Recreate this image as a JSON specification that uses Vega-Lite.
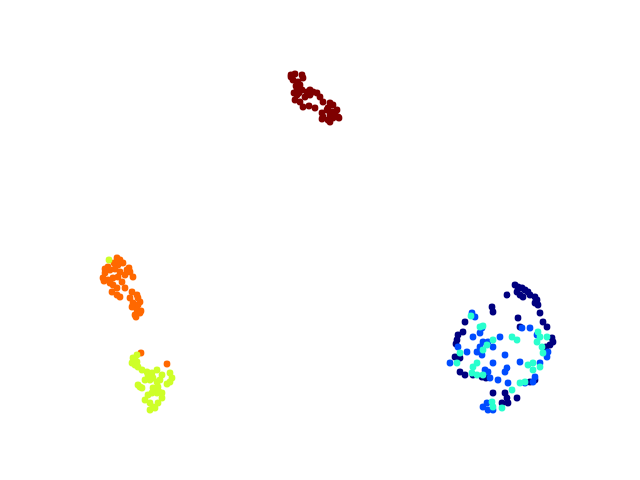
{
  "$schema": "https://vega.github.io/schema/vega-lite/v6.json",
  "width": 640,
  "height": 480,
  "padding": 0,
  "autosize": {"type": "fit", "contains": "padding"},
  "background": "white",
  "config": {"view": {"stroke": null}},
  "data": {"values": [
    {"x":291,"y":75,"c":5},{"x":295,"y":74,"c":5},{"x":302,"y":75,"c":5},{"x":303,"y":78,"c":5},{"x":293,"y":80,"c":5},{"x":298,"y":82,"c":5},{"x":300,"y":85,"c":5},{"x":297,"y":89,"c":5},{"x":302,"y":90,"c":5},{"x":297,"y":95,"c":5},{"x":295,"y":100,"c":5},{"x":300,"y":102,"c":5},{"x":307,"y":92,"c":5},{"x":310,"y":90,"c":5},{"x":313,"y":92,"c":5},{"x":317,"y":93,"c":5},{"x":320,"y":97,"c":5},{"x":310,"y":95,"c":5},{"x":305,"y":97,"c":5},{"x":303,"y":107,"c":5},{"x":315,"y":108,"c":5},{"x":323,"y":102,"c":5},{"x":330,"y":103,"c":5},{"x":333,"y":105,"c":5},{"x":328,"y":108,"c":5},{"x":332,"y":112,"c":5},{"x":337,"y":110,"c":5},{"x":338,"y":117,"c":5},{"x":333,"y":118,"c":5},{"x":328,"y":120,"c":5},{"x":323,"y":117,"c":5},{"x":322,"y":113,"c":5},{"x":330,"y":115,"c":5},{"x":335,"y":113,"c":5},{"x":330,"y":122,"c":5},{"x":327,"y":110,"c":5},{"x":299,"y":93,"c":5},{"x":294,"y":93,"c":5},{"x":291,"y":77,"c":5},{"x":309,"y":106,"c":5},{"x":339,"y":118,"c":5},{"x":322,"y":119,"c":5},{"x":296,"y":86,"c":5},

    {"x":117,"y":258,"c":4},{"x":120,"y":260,"c":4},{"x":123,"y":263,"c":4},{"x":118,"y":265,"c":4},{"x":114,"y":263,"c":4},{"x":108,"y":267,"c":4},{"x":105,"y":269,"c":4},{"x":110,"y":270,"c":4},{"x":115,"y":269,"c":4},{"x":120,"y":272,"c":4},{"x":127,"y":270,"c":4},{"x":130,"y":272,"c":4},{"x":125,"y":275,"c":4},{"x":118,"y":277,"c":4},{"x":113,"y":278,"c":4},{"x":105,"y":273,"c":4},{"x":103,"y":278,"c":4},{"x":108,"y":280,"c":4},{"x":133,"y":277,"c":4},{"x":113,"y":285,"c":4},{"x":117,"y":288,"c":4},{"x":112,"y":292,"c":4},{"x":117,"y":295,"c":4},{"x":120,"y":297,"c":4},{"x":125,"y":288,"c":4},{"x":132,"y":292,"c":4},{"x":137,"y":295,"c":4},{"x":130,"y":298,"c":4},{"x":133,"y":303,"c":4},{"x":138,"y":305,"c":4},{"x":132,"y":307,"c":4},{"x":137,"y":310,"c":4},{"x":140,"y":313,"c":4},{"x":135,"y":315,"c":4},{"x":140,"y":302,"c":4},{"x":122,"y":282,"c":4},{"x":110,"y":283,"c":4},{"x":104,"y":281,"c":4},{"x":129,"y":268,"c":4},{"x":141,"y":311,"c":4},{"x":136,"y":317,"c":4},{"x":138,"y":298,"c":4},{"x":141,"y":353,"c":4},{"x":167,"y":364,"c":4},

    {"x":109,"y":260,"c":3},
    {"x":137,"y":355,"c":3},{"x":133,"y":358,"c":3},{"x":132,"y":363,"c":3},{"x":135,"y":365,"c":3},{"x":138,"y":367,"c":3},{"x":142,"y":370,"c":3},{"x":147,"y":372,"c":3},{"x":148,"y":375,"c":3},{"x":152,"y":373,"c":3},{"x":157,"y":370,"c":3},{"x":153,"y":378,"c":3},{"x":150,"y":380,"c":3},{"x":157,"y":382,"c":3},{"x":160,"y":380,"c":3},{"x":170,"y":373,"c":3},{"x":172,"y":378,"c":3},{"x":170,"y":382,"c":3},{"x":162,"y":375,"c":3},{"x":158,"y":387,"c":3},{"x":153,"y":388,"c":3},{"x":152,"y":393,"c":3},{"x":157,"y":393,"c":3},{"x":162,"y":393,"c":3},{"x":138,"y":385,"c":3},{"x":142,"y":388,"c":3},{"x":145,"y":400,"c":3},{"x":150,"y":403,"c":3},{"x":153,"y":407,"c":3},{"x":150,"y":410,"c":3},{"x":155,"y":408,"c":3},{"x":158,"y":403,"c":3},{"x":162,"y":398,"c":3},{"x":148,"y":395,"c":3},{"x":137,"y":362,"c":3},{"x":145,"y":380,"c":3},{"x":135,"y":360,"c":3},{"x":167,"y":384,"c":3},{"x":140,"y":387,"c":3},{"x":159,"y":392,"c":3},

    {"x":515,"y":285,"c":0},{"x":518,"y":287,"c":0},{"x":522,"y":288,"c":0},{"x":525,"y":290,"c":0},{"x":528,"y":292,"c":0},{"x":517,"y":292,"c":0},{"x":520,"y":295,"c":0},{"x":523,"y":297,"c":0},{"x":530,"y":295,"c":0},{"x":535,"y":297,"c":0},{"x":537,"y":300,"c":0},{"x":538,"y":305,"c":0},{"x":535,"y":303,"c":0},{"x":507,"y":295,"c":0},{"x":492,"y":307,"c":0},{"x":493,"y":312,"c":0},{"x":540,"y":313,"c":0},{"x":518,"y":318,"c":0},{"x":543,"y":322,"c":0},{"x":520,"y":327,"c":0},{"x":547,"y":327,"c":0},{"x":465,"y":322,"c":0},{"x":463,"y":332,"c":0},{"x":458,"y":335,"c":0},{"x":457,"y":340,"c":0},{"x":552,"y":338,"c":0},{"x":553,"y":342,"c":0},{"x":550,"y":345,"c":0},{"x":455,"y":357,"c":0},{"x":460,"y":372,"c":0},{"x":465,"y":375,"c":0},{"x":473,"y":375,"c":0},{"x":482,"y":377,"c":0},{"x":535,"y":380,"c":0},{"x":530,"y":382,"c":0},{"x":493,"y":393,"c":0},{"x":505,"y":393,"c":0},{"x":507,"y":398,"c":0},{"x":517,"y":398,"c":0},{"x":502,"y":403,"c":0},{"x":508,"y":403,"c":0},{"x":460,"y":358,"c":0},{"x":546,"y":347,"c":0},{"x":456,"y":344,"c":0},{"x":486,"y":378,"c":0},

    {"x":472,"y":313,"c":1},{"x":475,"y":317,"c":1},{"x":482,"y":328,"c":1},{"x":480,"y":333,"c":1},{"x":473,"y":337,"c":1},{"x":483,"y":342,"c":1},{"x":488,"y":342,"c":1},{"x":500,"y":337,"c":1},{"x":493,"y":347,"c":1},{"x":480,"y":347,"c":1},{"x":477,"y":352,"c":1},{"x":467,"y":352,"c":1},{"x":482,"y":355,"c":1},{"x":505,"y":355,"c":1},{"x":493,"y":363,"c":1},{"x":520,"y":362,"c":1},{"x":488,"y":372,"c":1},{"x":505,"y":372,"c":1},{"x":507,"y":368,"c":1},{"x":498,"y":380,"c":1},{"x":508,"y":383,"c":1},{"x":490,"y":378,"c":1},{"x":485,"y":370,"c":1},{"x":522,"y":328,"c":1},{"x":530,"y":328,"c":1},{"x":537,"y":335,"c":1},{"x":548,"y":352,"c":1},{"x":547,"y":357,"c":1},{"x":540,"y":363,"c":1},{"x":535,"y":377,"c":1},{"x":533,"y":382,"c":1},{"x":525,"y":383,"c":1},{"x":487,"y":403,"c":1},{"x":483,"y":407,"c":1},{"x":488,"y":410,"c":1},{"x":493,"y":410,"c":1},{"x":450,"y":363,"c":1},{"x":458,"y":347,"c":1},

    {"x":471,"y":316,"c":2},{"x":483,"y":326,"c":2},{"x":480,"y":327,"c":2},{"x":512,"y":337,"c":2},{"x":517,"y":340,"c":2},{"x":493,"y":340,"c":2},{"x":487,"y":345,"c":2},{"x":483,"y":350,"c":2},{"x":538,"y":332,"c":2},{"x":540,"y":337,"c":2},{"x":537,"y":342,"c":2},{"x":547,"y":337,"c":2},{"x":542,"y":347,"c":2},{"x":543,"y":353,"c":2},{"x":528,"y":365,"c":2},{"x":533,"y":363,"c":2},{"x":540,"y":367,"c":2},{"x":533,"y":370,"c":2},{"x":525,"y":382,"c":2},{"x":520,"y":383,"c":2},{"x":477,"y":363,"c":2},{"x":473,"y":367,"c":2},{"x":472,"y":373,"c":2},{"x":477,"y":375,"c":2},{"x":457,"y":363,"c":2},{"x":460,"y":353,"c":2},{"x":512,"y":390,"c":2},{"x":492,"y":402,"c":2},{"x":502,"y":408,"c":2},{"x":493,"y":407,"c":2},{"x":483,"y":375,"c":2}
  ]},
  "mark": {"type": "circle", "size": 46, "opacity": 1},
  "encoding": {
    "x": {"field": "x", "type": "quantitative", "axis": null, "scale": {"domain": [0, 640], "nice": false, "zero": false}},
    "y": {"field": "y", "type": "quantitative", "axis": null, "scale": {"domain": [480, 0], "nice": false, "zero": false}},
    "color": {"field": "c", "type": "nominal", "legend": null, "scale": {"domain": [0, 1, 2, 3, 4, 5], "range": ["#00007f", "#004cff", "#29ffce", "#ceff29", "#ff6800", "#7f0000"]}}
  }
}
